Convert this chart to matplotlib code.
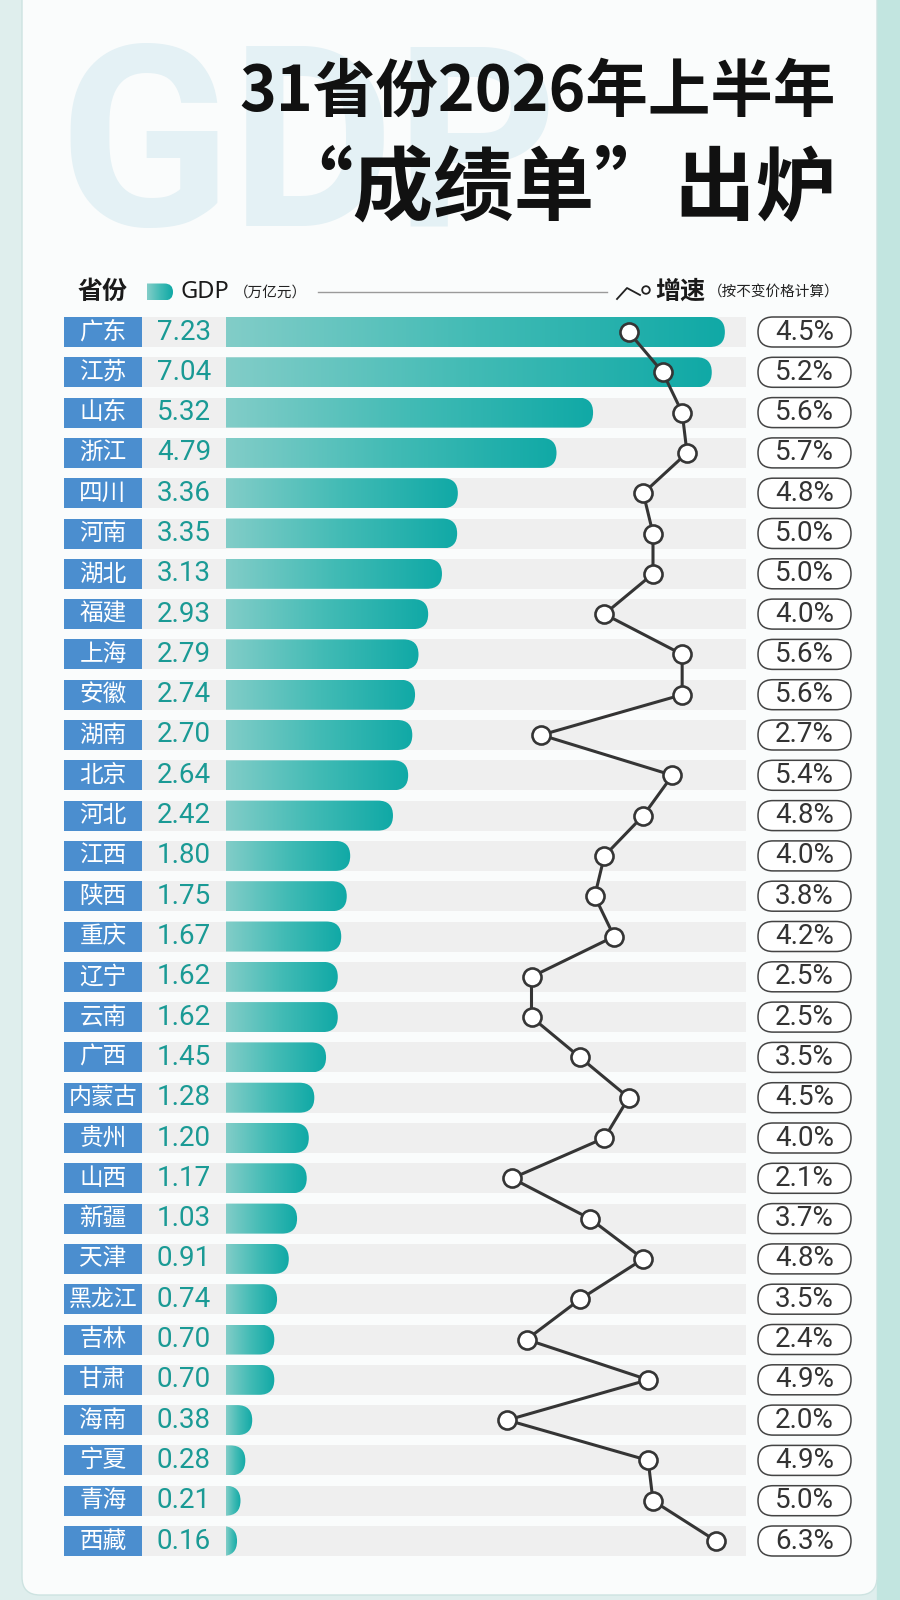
import matplotlib
matplotlib.use('Agg')
import matplotlib.pyplot as plt
import numpy as np
from matplotlib.patches import FancyBboxPatch, Rectangle, Circle
from matplotlib.colors import LinearSegmentedColormap

# ---------------- data ----------------
provinces = ["广东", "江苏", "山东", "浙江", "四川", "河南", "湖北", "福建", "上海", "安徽",
             "湖南", "北京", "河北", "江西", "陕西", "重庆", "辽宁", "云南", "广西", "内蒙古",
             "贵州", "山西", "新疆", "天津", "黑龙江", "吉林", "甘肃", "海南", "宁夏", "青海", "西藏"]
gdp = [7.23, 7.04, 5.32, 4.79, 3.36, 3.35, 3.13, 2.93, 2.79, 2.74,
       2.70, 2.64, 2.42, 1.80, 1.75, 1.67, 1.62, 1.62, 1.45, 1.28,
       1.20, 1.17, 1.03, 0.91, 0.74, 0.70, 0.70, 0.38, 0.28, 0.21, 0.16]
growth = [4.5, 5.2, 5.6, 5.7, 4.8, 5.0, 5.0, 4.0, 5.6, 5.6,
          2.7, 5.4, 4.8, 4.0, 3.8, 4.2, 2.5, 2.5, 3.5, 4.5,
          4.0, 2.1, 3.7, 4.8, 3.5, 2.4, 4.9, 2.0, 4.9, 5.0, 6.3]

title_line1 = "31省份2026年上半年"
title_line2 = "“成绩单”出炉"
watermark = "GDP"
legend_province = "省份"
legend_gdp = "GDP"
legend_gdp_unit = "（万亿元）"
legend_growth = "增速"
legend_growth_note = "（按不变价格计算）"

# ---------------- style ----------------
plt.rcParams['font.family'] = ['Noto Sans CJK SC', 'DejaVu Sans']
NUM_FONT = ['Roboto', 'DejaVu Sans']

TEAL_TXT = '#1a9a95'
BOX_BLUE = '#4b8ecf'
BAND_GRAY = '#efefef'
LINE_DARK = '#353535'
bar_cmap = LinearSegmentedColormap.from_list('bar', ['#82cdc8', '#42bbb5', '#10a9a6'])

W, H = 900, 1600
fig = plt.figure(figsize=(W / 100, H / 100), dpi=100)
fig.patch.set_facecolor('#dfeeed')


def px_axes(x0, x1, y0, y1, z):
    ax = fig.add_axes([x0 / W, 1 - y1 / H, (x1 - x0) / W, (y1 - y0) / H])
    ax.set_zorder(z)
    ax.patch.set_alpha(0)
    ax.axis('off')
    return ax


# background axes in pixel coordinates
ax_bg = px_axes(0, W, 0, H, 0)
ax_bg.set_xlim(0, W)
ax_bg.set_ylim(H, 0)
ax_bg.add_patch(Rectangle((877, 0), 23, H, color='#c2e5e0', zorder=0))
ax_bg.add_patch(FancyBboxPatch((22, -60), 855, 1655, boxstyle='round,pad=0,rounding_size=18',
                               fc='#fafcfc', ec='#cde3e1', lw=1.0, zorder=1))

# watermark + titles
ax_bg.text(58, 156, watermark, ha='left', va='center', fontsize=182, fontweight='bold',
           family=['Roboto', 'DejaVu Sans'], color='#e4f1f5', zorder=2)
ax_bg.text(836, 92, title_line1, ha='right', va='center', fontsize=45, fontweight='black',
           color='#111111', zorder=3)
ax_bg.text(836, 190, title_line2, ha='right', va='center', fontsize=58, fontweight='black',
           color='#111111', zorder=3)

# legend row
ly = 292
ax_bg.text(78, ly, legend_province, ha='left', va='center', fontsize=18, fontweight='bold', color='#1a1a1a', zorder=3)
icon_clip = FancyBboxPatch((135, ly - 8.5), 38, 17, boxstyle='round,pad=0,rounding_size=8.5',
                           fc='none', ec='none', transform=ax_bg.transData)
ax_bg.add_patch(icon_clip)
im = ax_bg.imshow(np.linspace(0, 1, 64).reshape(1, -1), cmap=bar_cmap, aspect='auto',
                  extent=(147, 173, ly + 8.5, ly - 8.5), zorder=3)
im.set_clip_path(icon_clip)
ax_bg.text(180, ly, legend_gdp, ha='left', va='center', fontsize=17, family=['Noto Sans', 'DejaVu Sans'],
           color='#1a1a1a', zorder=3)
ax_bg.text(234, ly + 1, legend_gdp_unit, ha='left', va='center', fontsize=10.5, color='#222222', zorder=3)
ax_bg.plot([318, 607], [ly, ly], color='#9a9a9a', lw=1.0, zorder=3)
ax_bg.plot([617, 627, 640], [299, 288, 295], color='#222222', lw=1.3, zorder=3)
ax_bg.add_patch(Circle((646, 290), 3.8, fc='white', ec='#222222', lw=1.3, zorder=3))
ax_bg.text(655, ly, legend_growth, ha='left', va='center', fontsize=18, fontweight='bold', color='#1a1a1a', zorder=3)
ax_bg.text(708, ly + 1, legend_growth_note, ha='left', va='center', fontsize=10.5, color='#222222', zorder=3)
ax_bg.set_xlim(0, W)
ax_bg.set_ylim(H, 0)

# ---------------- rows ----------------
n = len(provinces)
pitch = 40.3
row_top = 332 - pitch / 2
row_bot = row_top + n * pitch
bh = 30 / pitch
ys = np.arange(n)

ax_lab = px_axes(0, W, row_top, row_bot, 1)
ax_lab.set_xlim(0, W)
ax_lab.set_ylim(n - 0.5, -0.5)

GDP_MAX = 7.5
bar_x0 = 226
px_per_gdp = 69.0
ax_bar = px_axes(bar_x0, bar_x0 + GDP_MAX * px_per_gdp, row_top, row_bot, 2)

G_MAX = 7.0
g_x0 = 410
px_per_g = 48.6
ax_g = px_axes(g_x0, g_x0 + G_MAX * px_per_g, row_top, row_bot, 3)

for i, (name, v, g) in enumerate(zip(provinces, gdp, growth)):
    ax_lab.add_patch(Rectangle((142, i - bh / 2), 604, bh, fc=BAND_GRAY, ec='none'))
    ax_lab.add_patch(Rectangle((64, i - bh / 2), 78, bh, fc=BOX_BLUE, ec='none'))
    ax_lab.text(103, i, name, ha='center', va='center', color='white', fontsize=17 if len(name) < 3 else 16.5)
    ax_lab.text(157, i, f"{v:.2f}", ha='left', va='center', color=TEAL_TXT, fontsize=20, family=NUM_FONT)
    ax_lab.add_patch(FancyBboxPatch((758, i - bh / 2), 93, bh, boxstyle='round,pad=0,rounding_size=15',
                                    mutation_aspect=1 / pitch, fc='white', ec='#444444', lw=1.1))
    ax_lab.text(804.5, i, f"{g:.1f}%", ha='center', va='center', color='#333333', fontsize=20, family=NUM_FONT)

# bars with gradient and rounded right end
ma = px_per_gdp / pitch
r = (bh / ma) / 2
grad = np.linspace(0, 1, 256).reshape(1, -1)
for i, v in enumerate(gdp):
    clip = FancyBboxPatch((-1, i - bh / 2), v + 1, bh, boxstyle=f'round,pad=0,rounding_size={r}',
                          mutation_aspect=ma, fc='none', ec='none', transform=ax_bar.transData)
    ax_bar.add_patch(clip)
    im = ax_bar.imshow(grad, cmap=bar_cmap, aspect='auto', extent=(0, v, i + bh / 2, i - bh / 2),
                       interpolation='bilinear')
    im.set_clip_path(clip)
ax_bar.set_xlim(0, GDP_MAX)
ax_bar.set_ylim(n - 0.5, -0.5)

# growth line
ax_g.plot(growth, ys, color=LINE_DARK, lw=2.2, marker='o', ms=13, mfc='white', mec=LINE_DARK,
          mew=1.9, clip_on=False, zorder=3)
ax_g.set_xlim(0, G_MAX)
ax_g.set_ylim(n - 0.5, -0.5)

fig.savefig('out.png', dpi=100)
